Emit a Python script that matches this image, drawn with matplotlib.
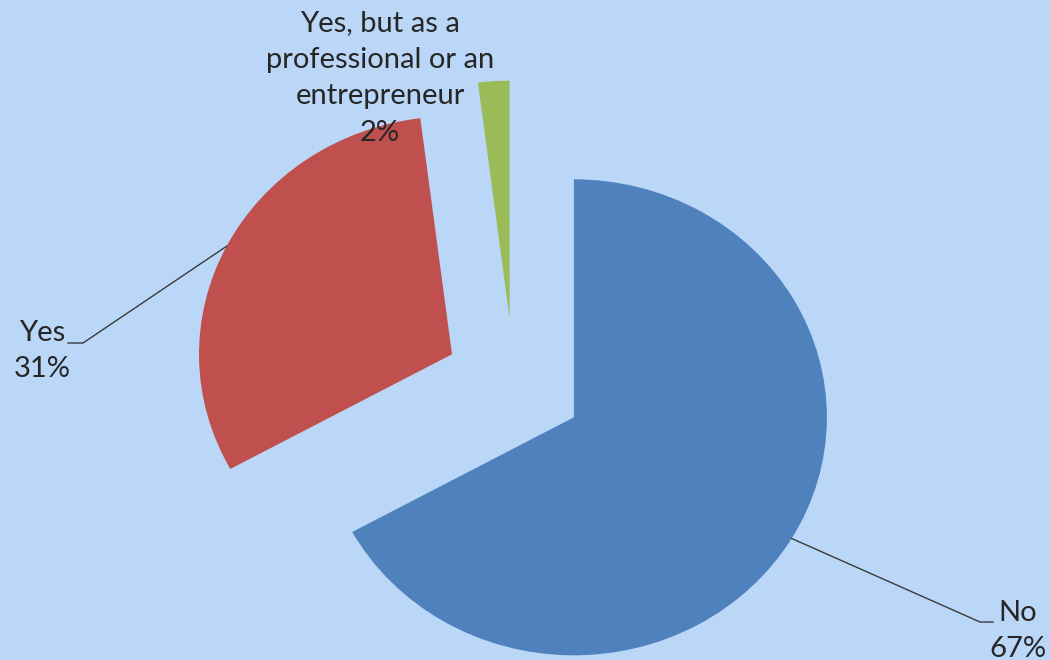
import numpy as np
import matplotlib
matplotlib.use("Agg")
import matplotlib.pyplot as plt

categories = ["No", "Yes", "Yes, but as a\nprofessional or an\nentrepreneur"]
values = [67, 31, 2]
colors = ["#4F81BD", "#C0504D", "#9BBB59"]
pct_labels = ["67%", "31%", "2%"]

BG = "#BBD7F8"
TXT = "#262626"

W, H = 1050, 660
fig = plt.figure(figsize=(W / 100, H / 100), dpi=100, facecolor=BG)
ax = fig.add_axes([0, 0, 1, 1])
ax.set_facecolor(BG)

# pixel geometry of pie (layout)
CX, CY, RX, RY = 514, 384, 253, 238
EXP = 0.275

wedges, _ = ax.pie(values, colors=colors, startangle=90, counterclock=False,
                   explode=[EXP] * len(values), radius=1.0,
                   wedgeprops=dict(linewidth=0))
ax.set_aspect("auto")
ax.set_xlim(-CX / RX, (W - CX) / RX)
ax.set_ylim(-(H - CY) / RY, CY / RY)
ax.axis("off")


def px(x, y):
    return (x - CX) / RX, (CY - y) / RY


def arc_point(w):
    th = np.deg2rad((w.theta1 + w.theta2) / 2)
    cx, cy = w.center
    return cx + w.r * np.cos(th), cy + w.r * np.sin(th)


font = "Lato"
fs = 21
ls = 1.5

# No label
x0, y0 = arc_point(wedges[0])
p1 = px(980, 622); p2 = px(993, 622)
ax.plot([x0, p1[0], p2[0]], [y0, p1[1], p2[1]], color="#3a3a3a", lw=1.0)
tx, ty = px(1018, 631)
ax.text(tx, ty, categories[0] + "\n" + pct_labels[0], ha="center", va="center",
        fontsize=fs, family=font, color=TXT, linespacing=ls)

# Yes label
x0, y0 = arc_point(wedges[1])
p1 = px(83, 343); p2 = px(68, 343)
ax.plot([x0, p1[0], p2[0]], [y0, p1[1], p2[1]], color="#3a3a3a", lw=1.0)
tx, ty = px(42, 351)
ax.text(tx, ty, categories[1] + "\n" + pct_labels[1], ha="center", va="center",
        fontsize=fs, family=font, color=TXT, linespacing=ls)

# Small slice label
tx, ty = px(380, 78)
ax.text(tx, ty, categories[2] + "\n" + pct_labels[2], ha="center", va="center",
        fontsize=fs, family=font, color=TXT, linespacing=ls, multialignment="center")

fig.savefig("out.png", dpi=100, facecolor=BG)
